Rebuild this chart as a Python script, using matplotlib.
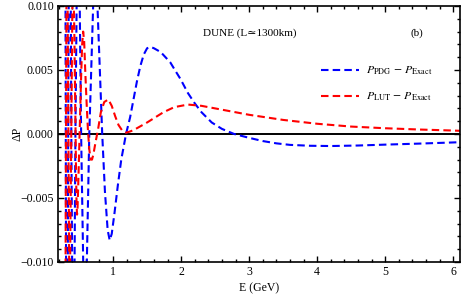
import matplotlib
matplotlib.use("Agg")
import matplotlib.pyplot as plt
from matplotlib.ticker import MultipleLocator

plt.rcParams['font.family'] = ['Liberation Serif', 'DejaVu Serif']
plt.rcParams['mathtext.fontset'] = 'stix'

# values (E in GeV, dP)
e_pdg = [0.295, 0.304, 0.32, 0.34, 0.362, 0.386, 0.415, 0.446, 0.485, 0.53,
         0.585, 0.65, 0.735, 0.84, 0.88, 0.92, 0.95, 0.98, 1.02, 1.07, 1.12,
         1.19, 1.25, 1.30, 1.35, 1.40, 1.45, 1.50, 1.55, 1.60, 1.70, 1.84,
         1.92, 1.99, 2.10, 2.20, 2.30, 2.45, 2.60, 2.78, 3.00, 3.20, 3.40,
         3.60, 3.90, 4.20, 4.60, 5.00, 5.50, 6.00, 6.10]
dp_pdg = [0.025, 0.0, -0.035, 0.0, 0.03, 0.0, -0.025, 0.0, 0.022, 0.0,
          -0.018, 0.0, 0.015, 0.0, -0.0045, -0.0075, -0.0083, -0.0078, -0.0062,
          -0.0040, -0.0020, 0.0, 0.0013, 0.0027, 0.0041, 0.0053, 0.0062, 0.0067,
          0.0068, 0.0067, 0.0064, 0.0056, 0.0049, 0.0043, 0.0032, 0.0024,
          0.0017, 0.0009, 0.0004, 0.0, -0.0003, -0.00055, -0.00073, -0.00085,
          -0.00092, -0.00094, -0.0009, -0.00083, -0.00075, -0.00066, -0.00064]

e_lut = [0.295, 0.32, 0.36, 0.408, 0.43, 0.445, 0.455, 0.463, 0.47, 0.478,
         0.49, 0.51, 0.53, 0.545, 0.56, 0.575, 0.59, 0.61, 0.63, 0.65, 0.67,
         0.69, 0.71, 0.74, 0.78, 0.82, 0.87, 0.93, 0.98, 1.03, 1.08, 1.13,
         1.19, 1.25, 1.30, 1.40, 1.50, 1.62, 1.74, 1.90, 2.10, 2.30, 2.50,
         2.80, 3.00, 3.50, 4.00, 4.50, 5.00, 5.50, 6.00, 6.10]
dp_lut = [-0.02, 0.02, -0.015, 0.014, 0.008, 0.0015, -0.003, -0.0055, -0.0063,
          -0.0057, -0.0035, 0.0005, 0.0045, 0.007, 0.008, 0.0072, 0.005, 0.0025,
          0.0003, -0.0012, -0.002, -0.002, -0.0016, -0.0007, 0.0004, 0.0017,
          0.0025, 0.0027, 0.0022, 0.0014, 0.0007, 0.0003, 0.0001, 0.0002,
          0.0003, 0.0006, 0.0009, 0.0013, 0.0017, 0.0021, 0.0023, 0.0022,
          0.0020, 0.0017, 0.0015, 0.0011, 0.0008, 0.00058, 0.00045, 0.00035,
          0.00027, 0.00025]

fig = plt.figure(figsize=(4.63, 3.0), dpi=100)
ax = fig.add_axes([58 / 463, 38 / 300, 402 / 463, 256 / 300])

dash = (0, (3.6, 2.0))
ax.axhline(0, color='black', lw=1.4, zorder=1)
ax.plot(e_pdg, dp_pdg, color='#0000ff', lw=1.5, linestyle=dash,
        label=r'$P_{\rm PDG}\,-\,P_{\rm Exact}$')
ax.plot(e_lut, dp_lut, color='#ff0000', lw=1.5, linestyle=dash,
        label=r'$P_{\rm LUT}\,-\,P_{\rm Exact}$')

ax.set_xlim(0.19, 6.1)
ax.set_ylim(-0.010, 0.010)
ax.xaxis.set_major_locator(MultipleLocator(1))
ax.xaxis.set_minor_locator(MultipleLocator(0.2))
ax.yaxis.set_major_locator(MultipleLocator(0.005))
ax.yaxis.set_minor_locator(MultipleLocator(0.001))
ax.yaxis.set_major_formatter(lambda v, p: f'{v:.3f}'.replace('-', '\u2212'))
ax.tick_params(which='both', direction='in', top=True, right=True,
               labelsize=8.5, width=1.0, pad=3)
ax.tick_params(which='major', length=4)
ax.tick_params(which='minor', length=2)
for s in ax.spines.values():
    s.set_linewidth(1.2)

ax.set_xlabel('E (GeV)', fontsize=8.5, labelpad=3)
ax.set_ylabel('\u0394P', fontsize=8.5, labelpad=-2)

ax.text(2.32, 0.0079, 'DUNE (L\u22431300km)', fontsize=8, va='center')
ax.text(5.47, 0.0079, '(b)', fontsize=8, va='center', ha='center')

ax.legend(loc='upper left', bbox_to_anchor=(0.655, 0.77), frameon=False,
          fontsize=8.5, borderpad=0, borderaxespad=0, handlelength=3.2,
          handletextpad=0.6, labelspacing=1.15)

fig.savefig('out.png', dpi=100)
